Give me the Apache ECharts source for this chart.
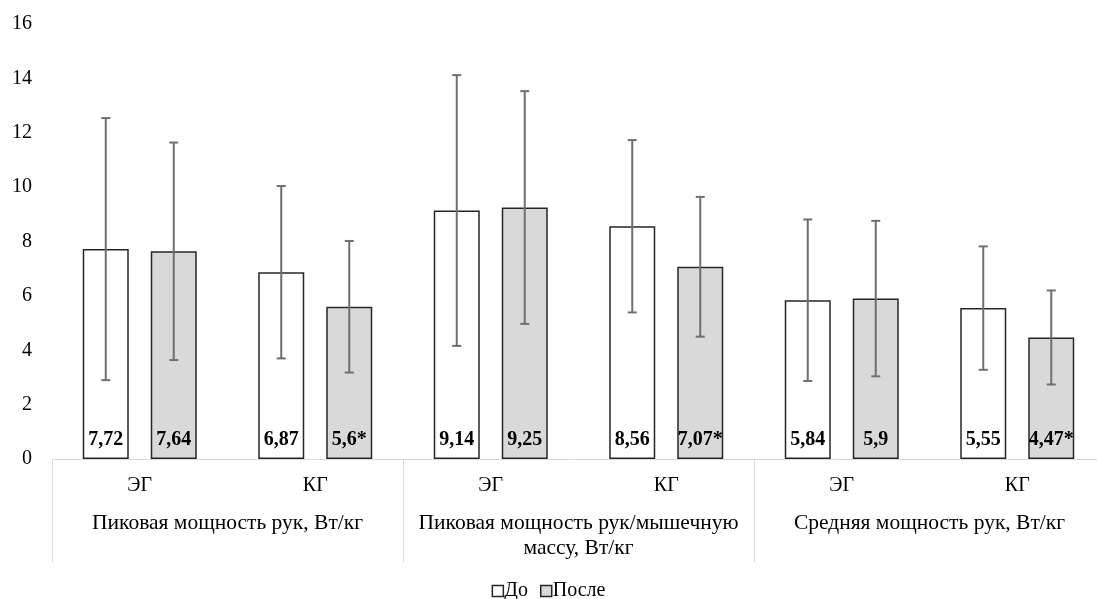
<!DOCTYPE html>
<html>
<head>
<meta charset="utf-8">
<script src="https://cdn.jsdelivr.net/npm/echarts@6/dist/echarts.min.js"></script>
<style>
  html, body { margin: 0; padding: 0; background: #fff; }
  #chart { width: 1097px; height: 599px; }
</style>
</head>
<body>
<div id="chart"></div>
<script>
// Sub-categories (groups) and the three measures they belong to
const subCategories = ['ЭГ', 'КГ', 'ЭГ', 'КГ', 'ЭГ', 'КГ'];
const measures = ['Пиковая мощность рук, Вт/кг', 'Пиковая мощность рук/мышечную\nмассу, Вт/кг', 'Средняя мощность рук, Вт/кг'];
const seriesNames = ['До', 'После'];

// Means before / after
const beforeValues = [7.72, 6.87, 9.14, 8.56, 5.84, 5.55];
const afterValues = [7.64, 5.6, 9.25, 7.07, 5.9, 4.47];

// Standard deviations (error bar half-lengths)
const beforeSd = [4.82, 3.17, 4.98, 3.17, 2.97, 2.27];
const afterSd = [4.0, 2.42, 4.28, 2.57, 2.86, 1.73];

// Statistically significant change marker
const afterSignificant = [false, true, false, true, false, true];

const yTicks = { min: 0, max: 16, interval: 2 };

const FONT = '"Liberation Serif", "Times New Roman", serif';
const BAR_WIDTH = 46;
const BAR_GAP = 22;

function fmt(v, star) {
  return String(v).replace('.', ',') + (star ? '*' : '');
}

// Error bars drawn at the centre of each bar in a pair
function errorSeries(values, sds, side) {
  return {
    type: 'custom',
    xAxisIndex: 0,
    z: 5,
    silent: true,
    data: values.map((v, i) => [i, v - sds[i], v + sds[i]]),
    renderItem: function (params, api) {
      const i = api.value(0);
      const lo = api.coord([i, api.value(1)]);
      const hi = api.coord([i, api.value(2)]);
      const x = lo[0] + side * (BAR_WIDTH + BAR_GAP) / 2;
      const cap = 4.5;
      const style = { stroke: '#6f6f6f', lineWidth: 2 };
      return {
        type: 'group',
        children: [
          { type: 'line', shape: { x1: x, y1: lo[1], x2: x, y2: hi[1] }, style },
          { type: 'line', shape: { x1: x - cap, y1: hi[1], x2: x + cap, y2: hi[1] }, style },
          { type: 'line', shape: { x1: x - cap, y1: lo[1], x2: x + cap, y2: lo[1] }, style }
        ]
      };
    }
  };
}

const chart = echarts.init(document.getElementById('chart'));
chart.setOption({
  animation: false,
  textStyle: { fontFamily: FONT },
  grid: { left: 52, width: 1053, top: 24, height: 435, outerBoundsMode: 'none', containLabel: false },
  legend: {
    data: seriesNames,
    top: 576,
    left: 'center',
    icon: 'rect',
    itemWidth: 11,
    itemHeight: 11,
    itemGap: 12,
    itemStyle: { borderColor: '#262626', borderWidth: 1.5 },
    textStyle: { fontFamily: FONT, fontSize: 20, color: '#000', padding: [0, 0, 0, -4] }
  },
  xAxis: [
    {
      type: 'category',
      data: subCategories,
      position: 'bottom',
      axisLine: { show: true, lineStyle: { color: '#d9d9d9', width: 1 } },
      axisTick: { show: false },
      axisLabel: { fontFamily: FONT, fontSize: 20, color: '#000', margin: 16, lineHeight: 22 }
    },
    {
      type: 'category',
      data: measures,
      position: 'bottom',
      axisLine: { show: false },
      axisTick: { show: true, length: 103, interval: 0, lineStyle: { color: '#d9d9d9', width: 1 } },
      axisLabel: { fontFamily: FONT, fontSize: 21.5, color: '#000', margin: 52, lineHeight: 25, interval: 0 }
    }
  ],
  yAxis: {
    type: 'value',
    min: yTicks.min,
    max: yTicks.max,
    interval: yTicks.interval,
    axisLine: { show: false },
    axisTick: { show: false },
    splitLine: { show: false },
    axisLabel: { fontFamily: FONT, fontSize: 20, color: '#000', margin: 20 }
  },
  series: [
    {
      name: seriesNames[0],
      type: 'bar',
      xAxisIndex: 0,
      data: beforeValues,
      barWidth: BAR_WIDTH,
      barGap: (BAR_GAP / BAR_WIDTH * 100) + '%',
      itemStyle: { color: '#ffffff', borderColor: '#262626', borderWidth: 1.5 },
      label: {
        show: true,
        position: 'insideBottom',
        distance: 9,
        fontFamily: FONT,
        fontSize: 20,
        fontWeight: 'bold',
        color: '#000',
        formatter: p => fmt(p.value, false)
      }
    },
    {
      name: seriesNames[1],
      type: 'bar',
      xAxisIndex: 0,
      data: afterValues,
      barWidth: BAR_WIDTH,
      barGap: (BAR_GAP / BAR_WIDTH * 100) + '%',
      itemStyle: { color: '#d9d9d9', borderColor: '#262626', borderWidth: 1.5 },
      label: {
        show: true,
        position: 'insideBottom',
        distance: 9,
        fontFamily: FONT,
        fontSize: 20,
        fontWeight: 'bold',
        color: '#000',
        formatter: p => fmt(p.value, afterSignificant[p.dataIndex])
      }
    },
    errorSeries(beforeValues, beforeSd, -1),
    errorSeries(afterValues, afterSd, 1)
  ]
});
</script>
</body>
</html>
